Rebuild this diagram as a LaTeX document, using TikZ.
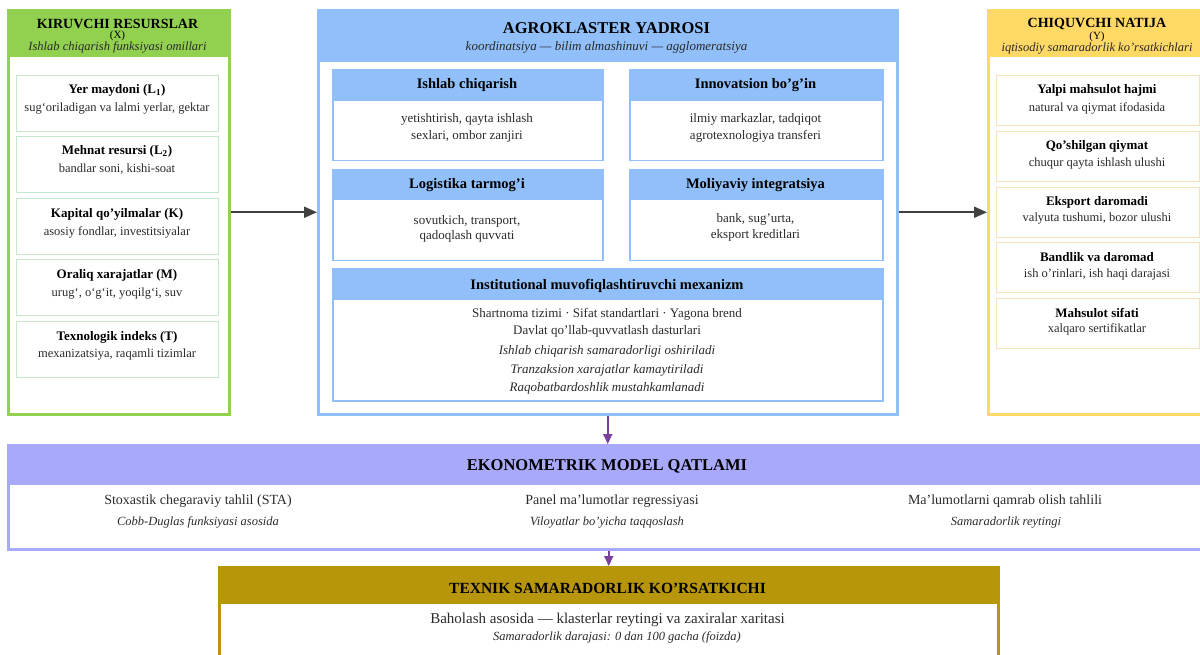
\documentclass[tikz,border=0pt]{standalone}
\usepackage{fontspec}
\setmainfont{Liberation Serif}
\usetikzlibrary{arrows.meta}
\definecolor{grn}{HTML}{92D050}
\definecolor{ltgrn}{HTML}{C5E8CC}
\definecolor{blu}{HTML}{90BFF9}
\definecolor{yel}{HTML}{FFD966}
\definecolor{ltyel}{HTML}{F5E2B8}
\definecolor{lav}{HTML}{A9A9FB}
\definecolor{gold}{HTML}{B8960C}
\definecolor{purp}{HTML}{7B3F9E}
\definecolor{darr}{HTML}{404040}
\definecolor{txt}{HTML}{2A2A2A}
\tikzset{
  frame/.style={anchor=north west, inner sep=0pt, line width=2.5pt},
  ibox/.style={anchor=north west, inner sep=0pt, line width=1pt},
  tx/.style={yshift=-1.5pt},
  hdr/.style={tx, font=\bfseries\fontsize{16.5}{18}\selectfont, text=black},
  sidehdr/.style={tx, font=\bfseries\fontsize{14}{16}\selectfont, text=black},
  hsub/.style={tx, font=\itshape\fontsize{13}{15}\selectfont, text=txt},
  sidesub/.style={tx, font=\itshape\fontsize{12.5}{14}\selectfont, text=txt},
  ttl/.style={tx, font=\bfseries\fontsize{13}{15}\selectfont, text=black},
  bdy/.style={tx, font=\fontsize{12.5}{14}\selectfont, text=txt},
  cttl/.style={tx, font=\bfseries\fontsize{14.5}{16}\selectfont, text=black},
  cbdy/.style={tx, font=\fontsize{13}{15}\selectfont, text=txt},
  cbdyi/.style={tx, font=\itshape\fontsize{13}{15}\selectfont, text=txt},
  ebdy/.style={tx, font=\fontsize{14}{16}\selectfont, text=txt},
  ebdyi/.style={tx, font=\itshape\fontsize{12.5}{14}\selectfont, text=txt},
  garrow/.style={draw=darr, line width=2pt, -{Triangle[length=13pt,width=11pt]}},
  parrow/.style={draw=purp, line width=2pt, -{Triangle[length=10pt,width=9pt]}},
}
\begin{document}
\begin{tikzpicture}[x=1pt,y=-1pt]
\useasboundingbox (0,0) rectangle (1200,655);
\clip (0,0) rectangle (1200,655);

% ===== Left: inputs =====
\fill[grn] (7,9) rectangle (228,57);
\node[frame, draw=grn, minimum width=221pt, minimum height=404pt] (inp) at (7,9) {};
\node[sidehdr] (inpT) at (117.5,22) {KIRUVCHI RESURSLAR};
\node[tx, font=\fontsize{11}{12}\selectfont] (inpX) at (117.5,34) {(X)};
\node[sidesub] (inpS) at (117.5,46) {Ishlab chiqarish funksiyasi omillari};

\node[ibox, draw=ltgrn, minimum width=202pt, minimum height=56pt] (l1) at (16,75) {};
\node[ttl] at (117,89) {Yer maydoni (L\textsubscript{1})};
\node[bdy] at (117,107) {sug‘oriladigan va lalmi yerlar, gektar};
\node[ibox, draw=ltgrn, minimum width=202pt, minimum height=56pt] (l2) at (16,136) {};
\node[ttl] at (117,150) {Mehnat resursi (L\textsubscript{2})};
\node[bdy] at (117,168) {bandlar soni, kishi-soat};
\node[ibox, draw=ltgrn, minimum width=202pt, minimum height=56pt] (l3) at (16,198) {};
\node[ttl] at (117,213) {Kapital qo’yilmalar (K)};
\node[bdy] at (117,231) {asosiy fondlar, investitsiyalar};
\node[ibox, draw=ltgrn, minimum width=202pt, minimum height=56pt] (l4) at (16,259) {};
\node[ttl] at (117,274) {Oraliq xarajatlar (M)};
\node[bdy] at (117,292) {urug‘, o‘g‘it, yoqilg‘i, suv};
\node[ibox, draw=ltgrn, minimum width=202pt, minimum height=56pt] (l5) at (16,321) {};
\node[ttl] at (117,336) {Texnologik indeks (T)};
\node[bdy] at (117,353) {mexanizatsiya, raqamli tizimlar};

% ===== Center: core =====
\fill[blu] (317,9) rectangle (896,62);
\node[frame, draw=blu, minimum width=579pt, minimum height=404pt] (core) at (317,9) {};
\node[hdr] (coreT) at (606.5,27) {AGROKLASTER YADROSI};
\node[hsub] (coreS) at (606.5,46) {koordinatsiya — bilim almashinuvi — agglomeratsiya};

% sub-boxes
\fill[blu] (332,69) rectangle (602,101);
\node[ibox, draw=blu, line width=1.5pt, minimum width=270pt, minimum height=91pt] (c1) at (332,69) {};
\node[cttl] at (467,84) {Ishlab chiqarish};
\node[cbdy] at (467,118) {yetishtirish, qayta ishlash};
\node[cbdy] at (467,135) {sexlari, ombor zanjiri};

\fill[blu] (629,69) rectangle (882,101);
\node[ibox, draw=blu, line width=1.5pt, minimum width=253pt, minimum height=91pt] (c2) at (629,69) {};
\node[cttl] at (755.5,84) {Innovatsion bo’g’in};
\node[cbdy] at (755.5,118) {ilmiy markazlar, tadqiqot};
\node[cbdy] at (755.5,135) {agrotexnologiya transferi};

\fill[blu] (332,169) rectangle (602,200);
\node[ibox, draw=blu, line width=1.5pt, minimum width=270pt, minimum height=91pt] (c3) at (332,169) {};
\node[cttl] at (467,184) {Logistika tarmog’i};
\node[cbdy] at (467,220) {sovutkich, transport,};
\node[cbdy] at (467,235) {qadoqlash quvvati};

\fill[blu] (629,169) rectangle (882,200);
\node[ibox, draw=blu, line width=1.5pt, minimum width=253pt, minimum height=91pt] (c4) at (629,169) {};
\node[cttl] at (755.5,184) {Moliyaviy integratsiya};
\node[cbdy] at (755.5,218) {bank, sug’urta,};
\node[cbdy] at (755.5,234) {eksport kreditlari};

\fill[blu] (332,268) rectangle (882,300);
\node[ibox, draw=blu, line width=1.5pt, minimum width=550pt, minimum height=132pt] (c5) at (332,268) {};
\node[cttl] at (607,284) {Institutional muvofiqlashtiruvchi mexanizm};
\node[cbdy] at (607,313) {Shartnoma tizimi · Sifat standartlari · Yagona brend};
\node[cbdy] at (607,330) {Davlat qo’llab-quvvatlash dasturlari};
\node[cbdyi] at (607,350) {Ishlab chiqarish samaradorligi oshiriladi};
\node[cbdyi] at (607,369) {Tranzaksion xarajatlar kamaytiriladi};
\node[cbdyi] at (607,387) {Raqobatbardoshlik mustahkamlanadi};

% ===== Right: outputs =====
\fill[yel] (987,9) rectangle (1210,57);
\node[frame, draw=yel, minimum width=223pt, minimum height=404pt] (out) at (987,9) {};
\node[sidehdr] (outT) at (1097,23) {CHIQUVCHI NATIJA};
\node[tx, font=\fontsize{11}{12}\selectfont] (outY) at (1097,35) {(Y)};
\node[sidesub] (outS) at (1097,47) {iqtisodiy samaradorlik ko’rsatkichlari};

\node[ibox, draw=ltyel, minimum width=203pt, minimum height=50pt] (r1) at (996,75) {};
\node[ttl] at (1097,89) {Yalpi mahsulot hajmi};
\node[bdy] at (1097,107) {natural va qiymat ifodasida};
\node[ibox, draw=ltyel, minimum width=203pt, minimum height=50pt] (r2) at (996,131) {};
\node[ttl] at (1097,145) {Qo’shilgan qiymat};
\node[bdy] at (1097,162) {chuqur qayta ishlash ulushi};
\node[ibox, draw=ltyel, minimum width=203pt, minimum height=50pt] (r3) at (996,187) {};
\node[ttl] at (1097,201) {Eksport daromadi};
\node[bdy] at (1097,217) {valyuta tushumi, bozor ulushi};
\node[ibox, draw=ltyel, minimum width=203pt, minimum height=50pt] (r4) at (996,242) {};
\node[ttl] at (1097,256) {Bandlik va daromad};
\node[bdy] at (1097,273) {ish o’rinlari, ish haqi darajasi};
\node[ibox, draw=ltyel, minimum width=203pt, minimum height=50pt] (r5) at (996,298) {};
\node[ttl] at (1097,312) {Mahsulot sifati};
\node[bdy] at (1097,328) {xalqaro sertifikatlar};

% ===== Econometric layer =====
\fill[lav] (7,444) rectangle (1210,485);
\node[frame, draw=lav, minimum width=1203pt, minimum height=104pt] (eco) at (7,444) {};
\node[hdr] (ecoT) at (607,465) {EKONOMETRIK MODEL QATLAMI};
\node[ebdy] at (198,500) {Stoxastik chegaraviy tahlil (STA)};
\node[ebdyi] at (198,521) {Cobb-Duglas funksiyasi asosida};
\node[ebdy] at (612,500) {Panel ma’lumotlar regressiyasi};
\node[ebdyi] at (607,521) {Viloyatlar bo’yicha taqqoslash};
\node[ebdy] at (1005,500) {Ma’lumotlarni qamrab olish tahlili};
\node[ebdyi] at (1006,521) {Samaradorlik reytingi};

% ===== Technical efficiency =====
\fill[gold] (218,566) rectangle (997,604);
\node[frame, draw=gold, minimum width=779pt, minimum height=110pt] (tech) at (218,566) {};
\node[tx, font=\bfseries\fontsize{15.5}{17}\selectfont, text=black] (techT) at (607.5,587) {TEXNIK SAMARADORLIK KO’RSATKICHI};
\node[tx, font=\fontsize{15}{17}\selectfont, text=txt] at (607.5,618) {Baholash asosida — klasterlar reytingi va zaxiralar xaritasi};
\node[ebdyi] at (617,636) {Samaradorlik darajasi: 0 dan 100 gacha (foizda)};

% ===== Connectors =====
\draw[garrow] (inp.east) -- (core.west);
\draw[garrow] (core.east) -- (out.west);
\draw[parrow] (core.south) -- (core.south |- eco.north);
\draw[parrow] (tech.north |- eco.south) -- (tech.north);
\end{tikzpicture}
\end{document}
